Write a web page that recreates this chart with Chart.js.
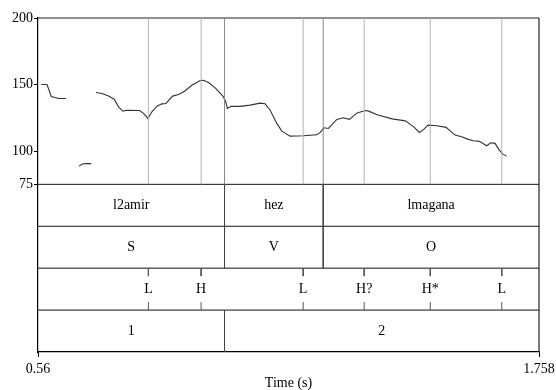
<!DOCTYPE html>
<html>
<head>
<meta charset="utf-8">
<script src="https://cdn.jsdelivr.net/npm/chart.js@4.4.0/dist/chart.umd.min.js"></script>
<style>
  html, body { margin: 0; background: #fff; }
  canvas { display: block; }
</style>
</head>
<body>
<canvas id="c" width="556" height="390"></canvas>
<script>
// time axis (s)
const xMin = 0.56
const xMax = 1.758
const xTickValues = [0.56, 1.758]
const xTickLabels = ['0.56', '1.758']

// pitch axis (Hz)
const pitchMin = 75
const pitchMax = 200
const pitchTicks = [75, 100, 150, 200]

// pitch contour, null = unvoiced gap
const pitchTime = [
  0.568, 0.5815, 0.5918, 0.6092, 0.6276, null,
  0.658, 0.6675, 0.6754, 0.6874, null,
  0.6986, 0.7129, 0.7287, 0.7423, 0.7526, 0.7631, 0.7727, 0.8028, 0.8124, 0.8229,
  0.8324, 0.8444, 0.8563, 0.8659, 0.8817, 0.8960, 0.9103, 0.9280, 0.9479, 0.9557,
  0.9677, 0.9837, 1.0021, 1.0076, 1.0131, 1.0219, 1.0434, 1.0673, 1.0912, 1.1032,
  1.1151, 1.1311, 1.1431, 1.1629, 1.1947, 1.2267, 1.2346, 1.2442, 1.2545, 1.2745,
  1.2903, 1.3047, 1.3231, 1.3429, 1.3510, 1.3709, 1.4067, 1.4385, 1.4585, 1.4719,
  1.4824, 1.4927, 1.5142, 1.5357, 1.5573, 1.5733, 1.5890, 1.6010, 1.6153, 1.6330,
  1.6426, 1.6529, 1.6631, 1.6712, 1.6808
]
const pitchHz = [
  150, 150, 141, 139.5, 139.5, null,
  88.7, 90.5, 90.6, 90.6, null,
  144, 143.3, 141.3, 139, 133.2, 130, 130.7, 130.5, 128.3, 124.5,
  129.5, 133.7, 135.5, 135.8, 141.3, 142.5, 145, 149.5, 153, 153.2,
  151.5, 147.5, 141.3, 138.2, 132, 133.7, 133.6, 134.5, 136, 135.5,
  130.7, 120.8, 115, 111.2, 111.5, 112.2, 114, 117.5, 117, 123.8,
  125, 123.8, 128.7, 130.5, 130, 127.3, 124.2, 122.7, 118.2, 114,
  116.3, 119.5, 119, 117.8, 112, 110.7, 108.8, 107.7, 107.3, 104,
  106.2, 105.8, 100.7, 97.7, 96.2
]

// TextGrid tiers
const wordLabels = ['l2amir', 'hez', 'lmagana']
const wordEdges = [0.56, 1.006, 1.242, 1.758]
const roleLabels = ['S', 'V', 'O']
const roleEdges = [0.56, 1.006, 1.242, 1.758]
const toneLabels = ['L', 'H', 'L', 'H?', 'H*', 'L']
const toneTimes = [0.824, 0.950, 1.194, 1.340, 1.498, 1.669]
const phraseLabels = ['1', '2']
const phraseEdges = [0.56, 1.006, 1.758]

const TIER_H = 31.5
const tierTop = i => pitchMin - i * TIER_H
const yMin = tierTop(4)

const FONT = '"Liberation Serif", "Times New Roman", serif'
const datasets = []

function seg (x1, y1, x2, y2, color, width) {
  datasets.push({
    data: [{ x: x1, y: y1 }, { x: x2, y: y2 }],
    showLine: true,
    borderColor: color,
    borderWidth: width,
    pointRadius: 0,
    clip: false,
  })
}

// vertical lines over the pitch area
const innerEdges = wordEdges.slice(1, -1)
toneTimes.forEach(t => seg(t, pitchMin, t, pitchMax, '#b4b4b4', 1))
innerEdges.forEach(t => seg(t, pitchMin, t, pitchMax, '#8a8a8a', 1))

// interval boundaries inside tiers
function tierBounds (edges, row) {
  edges.slice(1, -1).forEach(t => seg(t, tierTop(row), t, tierTop(row + 1), '#444', 1))
}
tierBounds(wordEdges, 0)
tierBounds(roleEdges, 1)
tierBounds(phraseEdges, 3)

// point tier tick marks
const tickLen = 6
toneTimes.forEach(t => {
  seg(t, tierTop(2), t, tierTop(2) - tickLen, '#555', 1)
  seg(t, tierTop(3), t, tierTop(3) + tickLen, '#555', 1)
})

// tier separators and frame
for (let i = 0; i < 4; i++) seg(xMin, tierTop(i), xMax, tierTop(i), '#111', 1)
seg(xMin, pitchMax, xMax, pitchMax, '#222', 1.2)
seg(xMax, yMin, xMax, pitchMax, '#222', 1.2)

// pitch contour
datasets.push({
  data: pitchTime.map((t, i) => (t === null ? { x: NaN, y: null } : { x: t, y: pitchHz[i] })),
  showLine: true,
  spanGaps: false,
  borderColor: '#333',
  borderWidth: 1.1,
  pointRadius: 0,
  tension: 0,
})

const tierText = {
  id: 'tierText',
  afterDatasetsDraw (chart) {
    const { ctx } = chart
    const x = chart.scales.x
    const y = chart.scales.y
    ctx.save()
    ctx.font = '14px ' + FONT
    ctx.fillStyle = '#000'
    ctx.textAlign = 'center'
    ctx.textBaseline = 'middle'
    const rowMid = row => (y.getPixelForValue(tierTop(row)) + y.getPixelForValue(tierTop(row + 1))) / 2
    const intervals = (labels, edges, row) => {
      labels.forEach((lbl, i) => {
        const cx = (x.getPixelForValue(edges[i]) + x.getPixelForValue(edges[i + 1])) / 2
        ctx.fillText(lbl, cx, rowMid(row))
      })
    }
    intervals(wordLabels, wordEdges, 0)
    intervals(roleLabels, roleEdges, 1)
    toneLabels.forEach((lbl, i) => ctx.fillText(lbl, x.getPixelForValue(toneTimes[i]), rowMid(2)))
    intervals(phraseLabels, phraseEdges, 3)
    ctx.restore()
  }
}

new Chart(document.getElementById('c'), {
  type: 'scatter',
  data: { datasets },
  options: {
    responsive: false,
    animation: false,
    devicePixelRatio: 1,
    layout: { padding: { top: 18, right: 17, left: 0, bottom: 0 } },
    plugins: { legend: { display: false }, tooltip: { enabled: false } },
    scales: {
      x: {
        type: 'linear',
        min: xMin,
        max: xMax,
        afterBuildTicks: s => { s.ticks = xTickValues.map(v => ({ value: v })) },
        afterFit: s => {
          s.height = 38
          s.paddingLeft = 0
          s.paddingRight = 0
        },
        ticks: {
          autoSkip: false,
          maxRotation: 0,
          padding: 4,
          color: '#000',
          font: { family: FONT, size: 14 },
          callback: (v, i) => xTickLabels[i],
        },
        grid: { drawOnChartArea: false, tickLength: 5, color: '#000', tickWidth: 1 },
        border: { display: true, color: '#000', width: 1.2 },
        title: {
          display: true,
          text: 'Time (s)',
          color: '#000',
          font: { family: FONT, size: 14 },
          padding: { top: 0, bottom: -2 },
        },
      },
      y: {
        type: 'linear',
        min: yMin,
        max: pitchMax,
        afterBuildTicks: s => { s.ticks = pitchTicks.map(v => ({ value: v })) },
        afterFit: s => {
          s.width = 38
          s.paddingTop = 0
          s.paddingBottom = 0
        },
        ticks: {
          autoSkip: false,
          padding: 1,
          color: '#000',
          font: { family: FONT, size: 14 },
        },
        grid: { drawOnChartArea: false, tickLength: 4, color: '#000', tickWidth: 1 },
        border: { display: true, color: '#000', width: 1.2 },
      },
    },
  },
  plugins: [tierText],
})
</script>
</body>
</html>
